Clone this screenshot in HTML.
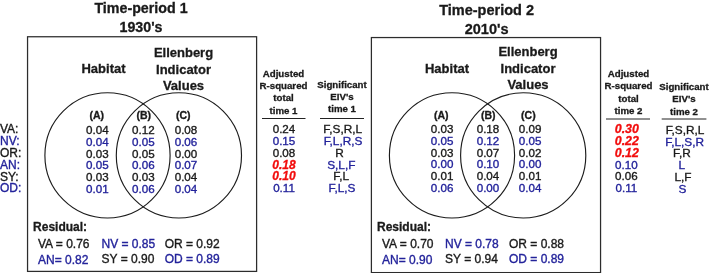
<!DOCTYPE html>
<html><head><meta charset="utf-8"><title>Variation partitioning</title>
<style>
html,body{margin:0;padding:0;background:#fff;}
body{width:709px;height:273px;overflow:hidden;}
svg{display:block;font-family:"Liberation Sans",sans-serif;will-change:transform;opacity:0.999;}
</style></head><body>
<svg width="709" height="273" viewBox="0 0 709 273">
<rect width="709" height="273" fill="#fff"/>
<text x="0.00" y="133.40" font-size="12" font-weight="normal" fill="#1a1a1a" stroke="#1a1a1a" stroke-width="0.35" text-anchor="start">VA:</text>
<text x="0.00" y="145.20" font-size="12" font-weight="normal" fill="#23239b" stroke="#23239b" stroke-width="0.35" text-anchor="start">NV:</text>
<text x="0.00" y="157.00" font-size="12" font-weight="normal" fill="#1a1a1a" stroke="#1a1a1a" stroke-width="0.35" text-anchor="start">OR:</text>
<text x="0.00" y="168.80" font-size="12" font-weight="normal" fill="#23239b" stroke="#23239b" stroke-width="0.35" text-anchor="start">AN:</text>
<text x="0.00" y="180.60" font-size="12" font-weight="normal" fill="#1a1a1a" stroke="#1a1a1a" stroke-width="0.35" text-anchor="start">SY:</text>
<text x="0.00" y="192.40" font-size="12" font-weight="normal" fill="#23239b" stroke="#23239b" stroke-width="0.35" text-anchor="start">OD:</text>
<text x="141.00" y="13.00" font-size="14.25" font-weight="bold" fill="#1a1a1a" stroke="#1a1a1a" stroke-width="0.3" text-anchor="middle">Time-period 1</text>
<text x="141.00" y="31.80" font-size="14.25" font-weight="bold" fill="#1a1a1a" stroke="#1a1a1a" stroke-width="0.3" text-anchor="middle">1930's</text>
<rect x="27.55" y="36.75" width="229.05" height="234.65" fill="none" stroke="#2c2c2c" stroke-width="1.25"/>
<circle cx="107.5" cy="155.4" r="62.6" fill="none" stroke="#1c1c1c" stroke-width="1.15"/>
<circle cx="178.9" cy="155.4" r="62.6" fill="none" stroke="#1c1c1c" stroke-width="1.15"/>
<text x="103.50" y="72.80" font-size="13" font-weight="bold" fill="#1a1a1a" stroke="#1a1a1a" stroke-width="0.3" text-anchor="middle">Habitat</text>
<text x="183.50" y="57.00" font-size="13" font-weight="bold" fill="#1a1a1a" stroke="#1a1a1a" stroke-width="0.3" text-anchor="middle">Ellenberg</text>
<text x="183.50" y="73.50" font-size="13" font-weight="bold" fill="#1a1a1a" stroke="#1a1a1a" stroke-width="0.3" text-anchor="middle">Indicator</text>
<text x="183.50" y="89.80" font-size="13" font-weight="bold" fill="#1a1a1a" stroke="#1a1a1a" stroke-width="0.3" text-anchor="middle">Values</text>
<text x="96.80" y="119.30" font-size="10.5" font-weight="bold" fill="#1a1a1a" stroke="#1a1a1a" stroke-width="0.3" text-anchor="middle">(A)</text>
<text x="143.80" y="119.30" font-size="10.5" font-weight="bold" fill="#1a1a1a" stroke="#1a1a1a" stroke-width="0.3" text-anchor="middle">(B)</text>
<text x="183.20" y="119.30" font-size="10.5" font-weight="bold" fill="#1a1a1a" stroke="#1a1a1a" stroke-width="0.3" text-anchor="middle">(C)</text>
<text x="97.40" y="134.00" font-size="11.6" font-weight="normal" fill="#1a1a1a" stroke="#1a1a1a" stroke-width="0.35" text-anchor="middle">0.04</text>
<text x="143.40" y="134.00" font-size="11.6" font-weight="normal" fill="#1a1a1a" stroke="#1a1a1a" stroke-width="0.35" text-anchor="middle">0.12</text>
<text x="186.00" y="134.00" font-size="11.6" font-weight="normal" fill="#1a1a1a" stroke="#1a1a1a" stroke-width="0.35" text-anchor="middle">0.08</text>
<text x="97.40" y="145.80" font-size="11.6" font-weight="normal" fill="#23239b" stroke="#23239b" stroke-width="0.35" text-anchor="middle">0.04</text>
<text x="143.40" y="145.80" font-size="11.6" font-weight="normal" fill="#23239b" stroke="#23239b" stroke-width="0.35" text-anchor="middle">0.05</text>
<text x="186.00" y="145.80" font-size="11.6" font-weight="normal" fill="#23239b" stroke="#23239b" stroke-width="0.35" text-anchor="middle">0.06</text>
<text x="97.40" y="157.60" font-size="11.6" font-weight="normal" fill="#1a1a1a" stroke="#1a1a1a" stroke-width="0.35" text-anchor="middle">0.03</text>
<text x="143.40" y="157.60" font-size="11.6" font-weight="normal" fill="#1a1a1a" stroke="#1a1a1a" stroke-width="0.35" text-anchor="middle">0.05</text>
<text x="186.00" y="157.60" font-size="11.6" font-weight="normal" fill="#1a1a1a" stroke="#1a1a1a" stroke-width="0.35" text-anchor="middle">0.00</text>
<text x="97.40" y="169.40" font-size="11.6" font-weight="normal" fill="#23239b" stroke="#23239b" stroke-width="0.35" text-anchor="middle">0.05</text>
<text x="143.40" y="169.40" font-size="11.6" font-weight="normal" fill="#23239b" stroke="#23239b" stroke-width="0.35" text-anchor="middle">0.06</text>
<text x="186.00" y="169.40" font-size="11.6" font-weight="normal" fill="#23239b" stroke="#23239b" stroke-width="0.35" text-anchor="middle">0.07</text>
<text x="97.40" y="181.20" font-size="11.6" font-weight="normal" fill="#1a1a1a" stroke="#1a1a1a" stroke-width="0.35" text-anchor="middle">0.03</text>
<text x="143.40" y="181.20" font-size="11.6" font-weight="normal" fill="#1a1a1a" stroke="#1a1a1a" stroke-width="0.35" text-anchor="middle">0.03</text>
<text x="186.00" y="181.20" font-size="11.6" font-weight="normal" fill="#1a1a1a" stroke="#1a1a1a" stroke-width="0.35" text-anchor="middle">0.04</text>
<text x="97.40" y="193.00" font-size="11.6" font-weight="normal" fill="#23239b" stroke="#23239b" stroke-width="0.35" text-anchor="middle">0.01</text>
<text x="143.40" y="193.00" font-size="11.6" font-weight="normal" fill="#23239b" stroke="#23239b" stroke-width="0.35" text-anchor="middle">0.06</text>
<text x="186.00" y="193.00" font-size="11.6" font-weight="normal" fill="#23239b" stroke="#23239b" stroke-width="0.35" text-anchor="middle">0.04</text>
<text x="33.10" y="230.80" font-size="12" font-weight="bold" fill="#1a1a1a" stroke="#1a1a1a" stroke-width="0.3" text-anchor="start">Residual:</text>
<text x="38.00" y="248.10" font-size="12" font-weight="normal" fill="#1a1a1a" stroke="#1a1a1a" stroke-width="0.35" text-anchor="start">VA = 0.76</text>
<text x="101.50" y="248.10" font-size="12" font-weight="normal" fill="#23239b" stroke="#23239b" stroke-width="0.35" text-anchor="start">NV = 0.85</text>
<text x="164.70" y="248.10" font-size="12" font-weight="normal" fill="#1a1a1a" stroke="#1a1a1a" stroke-width="0.35" text-anchor="start">OR = 0.92</text>
<text x="38.00" y="263.80" font-size="12" font-weight="normal" fill="#23239b" stroke="#23239b" stroke-width="0.35" text-anchor="start">AN= 0.82</text>
<text x="101.50" y="262.60" font-size="12" font-weight="normal" fill="#1a1a1a" stroke="#1a1a1a" stroke-width="0.35" text-anchor="start">SY = 0.90</text>
<text x="164.70" y="262.60" font-size="12" font-weight="normal" fill="#23239b" stroke="#23239b" stroke-width="0.35" text-anchor="start">OD = 0.89</text>
<text x="283.50" y="76.90" font-size="9.7" font-weight="bold" fill="#1a1a1a" stroke="#1a1a1a" stroke-width="0.3" text-anchor="middle">Adjusted</text>
<text x="283.50" y="89.10" font-size="9.7" font-weight="bold" fill="#1a1a1a" stroke="#1a1a1a" stroke-width="0.3" text-anchor="middle">R-squared</text>
<text x="283.50" y="101.30" font-size="9.7" font-weight="bold" fill="#1a1a1a" stroke="#1a1a1a" stroke-width="0.3" text-anchor="middle">total</text>
<text x="283.50" y="113.50" font-size="9.7" font-weight="bold" fill="#1a1a1a" stroke="#1a1a1a" stroke-width="0.3" text-anchor="middle">time 1</text>
<line x1="262" y1="118.5" x2="305.5" y2="118.5" stroke="#222" stroke-width="1"/>
<line x1="320" y1="118.5" x2="364" y2="118.5" stroke="#222" stroke-width="1"/>
<text x="284.00" y="133.20" font-size="11.6" font-weight="normal" fill="#1a1a1a" stroke="#1a1a1a" stroke-width="0.35" text-anchor="middle">0.24</text>
<text x="284.00" y="145.00" font-size="11.6" font-weight="normal" fill="#23239b" stroke="#23239b" stroke-width="0.35" text-anchor="middle">0.15</text>
<text x="284.00" y="156.80" font-size="11.6" font-weight="normal" fill="#1a1a1a" stroke="#1a1a1a" stroke-width="0.35" text-anchor="middle">0.08</text>
<text x="284.00" y="168.60" font-size="12" font-weight="bold" fill="#f20d0d" stroke="#f20d0d" stroke-width="0.3" text-anchor="middle" font-style="italic">0.18</text>
<text x="284.00" y="180.40" font-size="12" font-weight="bold" fill="#f20d0d" stroke="#f20d0d" stroke-width="0.3" text-anchor="middle" font-style="italic">0.10</text>
<text x="284.00" y="192.20" font-size="11.6" font-weight="normal" fill="#23239b" stroke="#23239b" stroke-width="0.35" text-anchor="middle">0.11</text>
<text x="342.00" y="87.90" font-size="9.7" font-weight="bold" fill="#1a1a1a" stroke="#1a1a1a" stroke-width="0.3" text-anchor="middle">Significant</text>
<text x="342.00" y="100.10" font-size="9.7" font-weight="bold" fill="#1a1a1a" stroke="#1a1a1a" stroke-width="0.3" text-anchor="middle">EIV's</text>
<text x="342.00" y="112.30" font-size="9.7" font-weight="bold" fill="#1a1a1a" stroke="#1a1a1a" stroke-width="0.3" text-anchor="middle">time 1</text>
<text x="342.70" y="133.20" font-size="11.8" font-weight="normal" fill="#1a1a1a" stroke="#1a1a1a" stroke-width="0.35" text-anchor="middle">F,S,R,L</text>
<text x="343.00" y="145.00" font-size="11.8" font-weight="normal" fill="#23239b" stroke="#23239b" stroke-width="0.35" text-anchor="middle">F,L,R,S</text>
<text x="339.50" y="156.80" font-size="11.8" font-weight="normal" fill="#1a1a1a" stroke="#1a1a1a" stroke-width="0.35" text-anchor="middle">R</text>
<text x="341.30" y="168.60" font-size="11.8" font-weight="normal" fill="#23239b" stroke="#23239b" stroke-width="0.35" text-anchor="middle">S,L,F</text>
<text x="341.20" y="180.40" font-size="11.8" font-weight="normal" fill="#1a1a1a" stroke="#1a1a1a" stroke-width="0.35" text-anchor="middle">F,L</text>
<text x="342.00" y="192.20" font-size="11.8" font-weight="normal" fill="#23239b" stroke="#23239b" stroke-width="0.35" text-anchor="middle">F,L,S</text>
<text x="486.60" y="14.80" font-size="14.5" font-weight="bold" fill="#1a1a1a" stroke="#1a1a1a" stroke-width="0.3" text-anchor="middle">Time-period 2</text>
<text x="486.60" y="34.00" font-size="14.5" font-weight="bold" fill="#1a1a1a" stroke="#1a1a1a" stroke-width="0.3" text-anchor="middle">2010's</text>
<rect x="371.4" y="37.55" width="229.15" height="235.05" fill="none" stroke="#2c2c2c" stroke-width="1.25"/>
<circle cx="452" cy="155.4" r="62.6" fill="none" stroke="#1c1c1c" stroke-width="1.15"/>
<circle cx="523.2" cy="155.4" r="62.6" fill="none" stroke="#1c1c1c" stroke-width="1.15"/>
<text x="447.00" y="72.80" font-size="13" font-weight="bold" fill="#1a1a1a" stroke="#1a1a1a" stroke-width="0.3" text-anchor="middle">Habitat</text>
<text x="528.00" y="56.20" font-size="13" font-weight="bold" fill="#1a1a1a" stroke="#1a1a1a" stroke-width="0.3" text-anchor="middle">Ellenberg</text>
<text x="528.00" y="72.70" font-size="13" font-weight="bold" fill="#1a1a1a" stroke="#1a1a1a" stroke-width="0.3" text-anchor="middle">Indicator</text>
<text x="528.00" y="88.80" font-size="13" font-weight="bold" fill="#1a1a1a" stroke="#1a1a1a" stroke-width="0.3" text-anchor="middle">Values</text>
<text x="441.30" y="119.30" font-size="10.5" font-weight="bold" fill="#1a1a1a" stroke="#1a1a1a" stroke-width="0.3" text-anchor="middle">(A)</text>
<text x="488.20" y="119.30" font-size="10.5" font-weight="bold" fill="#1a1a1a" stroke="#1a1a1a" stroke-width="0.3" text-anchor="middle">(B)</text>
<text x="528.40" y="119.30" font-size="10.5" font-weight="bold" fill="#1a1a1a" stroke="#1a1a1a" stroke-width="0.3" text-anchor="middle">(C)</text>
<text x="442.10" y="133.00" font-size="11.6" font-weight="normal" fill="#1a1a1a" stroke="#1a1a1a" stroke-width="0.35" text-anchor="middle">0.03</text>
<text x="488.00" y="133.00" font-size="11.6" font-weight="normal" fill="#1a1a1a" stroke="#1a1a1a" stroke-width="0.35" text-anchor="middle">0.18</text>
<text x="530.10" y="133.00" font-size="11.6" font-weight="normal" fill="#1a1a1a" stroke="#1a1a1a" stroke-width="0.35" text-anchor="middle">0.09</text>
<text x="442.10" y="144.80" font-size="11.6" font-weight="normal" fill="#23239b" stroke="#23239b" stroke-width="0.35" text-anchor="middle">0.05</text>
<text x="488.00" y="144.80" font-size="11.6" font-weight="normal" fill="#23239b" stroke="#23239b" stroke-width="0.35" text-anchor="middle">0.12</text>
<text x="530.10" y="144.80" font-size="11.6" font-weight="normal" fill="#23239b" stroke="#23239b" stroke-width="0.35" text-anchor="middle">0.05</text>
<text x="442.10" y="156.60" font-size="11.6" font-weight="normal" fill="#1a1a1a" stroke="#1a1a1a" stroke-width="0.35" text-anchor="middle">0.03</text>
<text x="488.00" y="156.60" font-size="11.6" font-weight="normal" fill="#1a1a1a" stroke="#1a1a1a" stroke-width="0.35" text-anchor="middle">0.07</text>
<text x="530.10" y="156.60" font-size="11.6" font-weight="normal" fill="#1a1a1a" stroke="#1a1a1a" stroke-width="0.35" text-anchor="middle">0.02</text>
<text x="442.10" y="168.40" font-size="11.6" font-weight="normal" fill="#23239b" stroke="#23239b" stroke-width="0.35" text-anchor="middle">0.00</text>
<text x="488.00" y="168.40" font-size="11.6" font-weight="normal" fill="#23239b" stroke="#23239b" stroke-width="0.35" text-anchor="middle">0.10</text>
<text x="530.10" y="168.40" font-size="11.6" font-weight="normal" fill="#23239b" stroke="#23239b" stroke-width="0.35" text-anchor="middle">0.00</text>
<text x="442.10" y="180.20" font-size="11.6" font-weight="normal" fill="#1a1a1a" stroke="#1a1a1a" stroke-width="0.35" text-anchor="middle">0.01</text>
<text x="488.00" y="180.20" font-size="11.6" font-weight="normal" fill="#1a1a1a" stroke="#1a1a1a" stroke-width="0.35" text-anchor="middle">0.04</text>
<text x="530.10" y="180.20" font-size="11.6" font-weight="normal" fill="#1a1a1a" stroke="#1a1a1a" stroke-width="0.35" text-anchor="middle">0.01</text>
<text x="442.10" y="192.00" font-size="11.6" font-weight="normal" fill="#23239b" stroke="#23239b" stroke-width="0.35" text-anchor="middle">0.06</text>
<text x="488.00" y="192.00" font-size="11.6" font-weight="normal" fill="#23239b" stroke="#23239b" stroke-width="0.35" text-anchor="middle">0.00</text>
<text x="530.10" y="192.00" font-size="11.6" font-weight="normal" fill="#23239b" stroke="#23239b" stroke-width="0.35" text-anchor="middle">0.04</text>
<text x="377.00" y="230.80" font-size="12" font-weight="bold" fill="#1a1a1a" stroke="#1a1a1a" stroke-width="0.3" text-anchor="start">Residual:</text>
<text x="382.00" y="248.10" font-size="12" font-weight="normal" fill="#1a1a1a" stroke="#1a1a1a" stroke-width="0.35" text-anchor="start">VA = 0.70</text>
<text x="445.00" y="248.10" font-size="12" font-weight="normal" fill="#23239b" stroke="#23239b" stroke-width="0.35" text-anchor="start">NV = 0.78</text>
<text x="509.00" y="248.10" font-size="12" font-weight="normal" fill="#1a1a1a" stroke="#1a1a1a" stroke-width="0.35" text-anchor="start">OR = 0.88</text>
<text x="382.00" y="263.80" font-size="12" font-weight="normal" fill="#23239b" stroke="#23239b" stroke-width="0.35" text-anchor="start">AN= 0.90</text>
<text x="445.00" y="262.60" font-size="12" font-weight="normal" fill="#1a1a1a" stroke="#1a1a1a" stroke-width="0.35" text-anchor="start">SY = 0.94</text>
<text x="509.00" y="262.60" font-size="12" font-weight="normal" fill="#23239b" stroke="#23239b" stroke-width="0.35" text-anchor="start">OD = 0.89</text>
<text x="628.50" y="76.90" font-size="9.7" font-weight="bold" fill="#1a1a1a" stroke="#1a1a1a" stroke-width="0.3" text-anchor="middle">Adjusted</text>
<text x="628.50" y="89.30" font-size="9.7" font-weight="bold" fill="#1a1a1a" stroke="#1a1a1a" stroke-width="0.3" text-anchor="middle">R-squared</text>
<text x="628.50" y="101.70" font-size="9.7" font-weight="bold" fill="#1a1a1a" stroke="#1a1a1a" stroke-width="0.3" text-anchor="middle">total</text>
<text x="628.50" y="113.70" font-size="9.7" font-weight="bold" fill="#1a1a1a" stroke="#1a1a1a" stroke-width="0.3" text-anchor="middle">time 2</text>
<line x1="606" y1="119" x2="650" y2="119" stroke="#222" stroke-width="1"/>
<line x1="661.7" y1="119" x2="706.4" y2="119" stroke="#222" stroke-width="1"/>
<text x="626.80" y="133.20" font-size="12.4" font-weight="bold" fill="#f20d0d" stroke="#f20d0d" stroke-width="0.3" text-anchor="middle" font-style="italic">0.30</text>
<text x="626.80" y="145.00" font-size="12.4" font-weight="bold" fill="#f20d0d" stroke="#f20d0d" stroke-width="0.3" text-anchor="middle" font-style="italic">0.22</text>
<text x="626.80" y="156.80" font-size="12.4" font-weight="bold" fill="#f20d0d" stroke="#f20d0d" stroke-width="0.3" text-anchor="middle" font-style="italic">0.12</text>
<text x="626.40" y="168.60" font-size="11.6" font-weight="normal" fill="#23239b" stroke="#23239b" stroke-width="0.35" text-anchor="middle">0.10</text>
<text x="626.40" y="180.40" font-size="11.6" font-weight="normal" fill="#1a1a1a" stroke="#1a1a1a" stroke-width="0.35" text-anchor="middle">0.06</text>
<text x="626.40" y="192.20" font-size="11.6" font-weight="normal" fill="#23239b" stroke="#23239b" stroke-width="0.35" text-anchor="middle">0.11</text>
<text x="684.00" y="89.60" font-size="9.7" font-weight="bold" fill="#1a1a1a" stroke="#1a1a1a" stroke-width="0.3" text-anchor="middle">Significant</text>
<text x="684.00" y="102.10" font-size="9.7" font-weight="bold" fill="#1a1a1a" stroke="#1a1a1a" stroke-width="0.3" text-anchor="middle">EIV's</text>
<text x="684.00" y="114.70" font-size="9.7" font-weight="bold" fill="#1a1a1a" stroke="#1a1a1a" stroke-width="0.3" text-anchor="middle">time 2</text>
<text x="685.00" y="133.70" font-size="11.8" font-weight="normal" fill="#1a1a1a" stroke="#1a1a1a" stroke-width="0.35" text-anchor="middle">F,S,R,L</text>
<text x="684.70" y="145.50" font-size="11.8" font-weight="normal" fill="#23239b" stroke="#23239b" stroke-width="0.35" text-anchor="middle">F,L,S,R</text>
<text x="681.90" y="157.30" font-size="11.8" font-weight="normal" fill="#1a1a1a" stroke="#1a1a1a" stroke-width="0.35" text-anchor="middle">F,R</text>
<text x="681.90" y="169.10" font-size="11.8" font-weight="normal" fill="#23239b" stroke="#23239b" stroke-width="0.35" text-anchor="middle">L</text>
<text x="683.00" y="180.90" font-size="11.8" font-weight="normal" fill="#1a1a1a" stroke="#1a1a1a" stroke-width="0.35" text-anchor="middle">L,F</text>
<text x="682.50" y="192.70" font-size="11.8" font-weight="normal" fill="#23239b" stroke="#23239b" stroke-width="0.35" text-anchor="middle">S</text>
</svg>
</body></html>
